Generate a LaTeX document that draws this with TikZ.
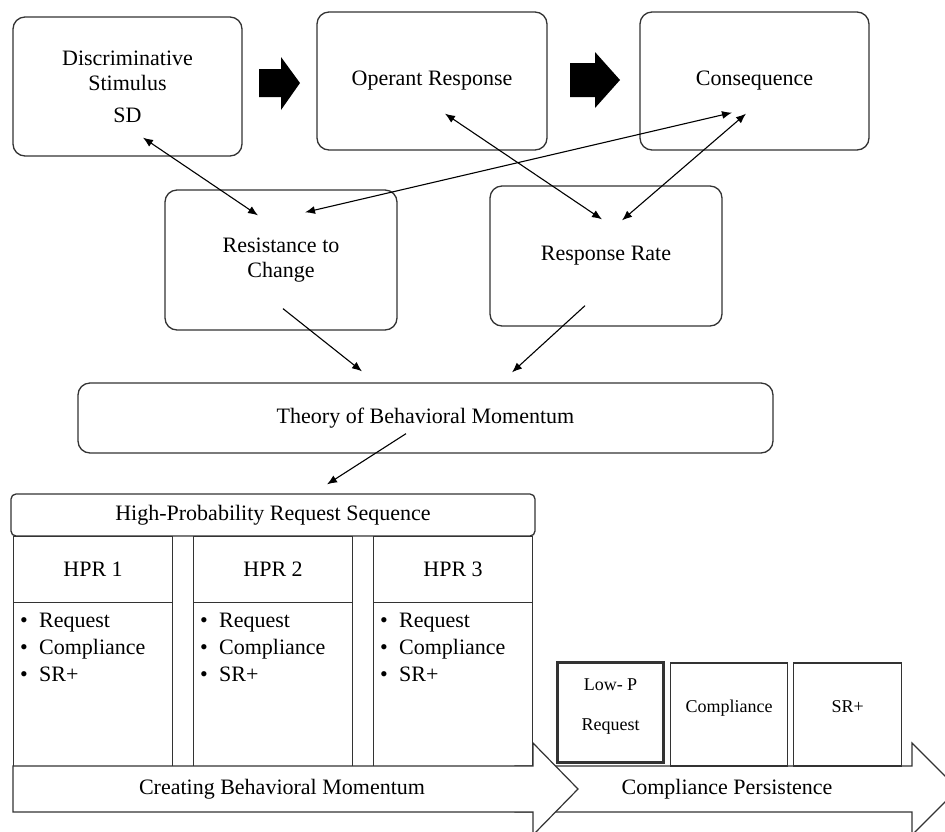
\documentclass[tikz,border=0pt]{standalone}
\usepackage{fontspec}
\setmainfont{Liberation Serif}
\usetikzlibrary{arrows.meta,positioning,calc}
\newcommand{\hpritem}[1]{\makebox[19pt][l]{\textbullet}#1}
\tikzset{
  roundbox/.style={draw=black!80, line width=1.3pt, rounded corners=12pt, align=center, inner sep=0pt},
  headbox/.style={draw=black!80, line width=1.3pt, rounded corners=5pt, align=center, inner sep=0pt},
  cellbox/.style={draw=black!80, line width=1.2pt, align=center, inner sep=0pt},
  smallbox/.style={draw=black!80, line width=1.2pt, align=center, inner sep=0pt, minimum height=103, text depth=16pt, font=\fontsize{18}{40}\selectfont},
  link/.style={-{Latex[length=10pt,width=8pt]}, line width=1.1pt},
  twolink/.style={{Latex[length=10pt,width=8pt]}-{Latex[length=10pt,width=8pt]}, line width=1.1pt},
  bigarrow/.style={draw=black!80, line width=1.2pt, fill=white}
}

\begin{document}
\begin{tikzpicture}[x=1pt, y=-1pt, font=\fontsize{22}{25}\selectfont]
  \path[use as bounding box, clip] (0,0) rectangle (945,831);
  \fill[white] (0,0) rectangle (945,831);

  % three-term contingency
  \node[roundbox, minimum width=229, minimum height=139] (sd) at (127.5,86.5) {Discriminative\\Stimulus\\[7pt]SD};
  \node[roundbox, minimum width=230, minimum height=138] (op) at (432,81) {Operant Response};
  \node[roundbox, minimum width=229, minimum height=138] (cons) at (754.5,81) {Consequence};
  \fill (259,69) -- (281,69) -- (281,57) -- (300,83) -- (281,110) -- (281,97) -- (259,97) -- cycle;
  \fill (570,63) -- (595,63) -- (595,52) -- (620,80) -- (595,108) -- (595,97) -- (570,97) -- cycle;

  % momentum
  \node[roundbox, minimum width=232, minimum height=140] (res) at (281,260) {Resistance to\\Change};
  \node[roundbox, minimum width=232, minimum height=140] (rate) at (606,256) {Response Rate};
  \node[roundbox, minimum width=695, minimum height=70] (bm) at (425.5,418) {Theory of Behavioral Momentum};

  \draw[twolink] ($(sd.south)+(15.5,-19)$) -- ($(res.north)+(-23,26)$);
  \draw[twolink] ($(cons.south)+(-22.5,-38)$) -- ($(res.north)+(24,23)$);
  \draw[twolink] ($(op.south)+(13,-37)$) -- ($(rate.north)+(-4,34)$);
  \draw[twolink] ($(cons.south)+(-8.5,-37)$) -- ($(rate.north)+(16,35)$);
  \draw[link] ($(res.south)+(2,-22)$) -- ($(bm.north)+(-63.5,-11)$);
  \draw[link] ($(rate.south)+(-21,-21)$) -- ($(bm.north)+(86.5,-10)$);

  % high-p sequence
  \node[headbox, minimum width=524, minimum height=42] (hprs) at (273,515) {High-Probability Request Sequence};
  \draw[link] ($(bm.south)+(-19.5,-20)$) -- ($(hprs.north)+(54,-9)$);
  \foreach \i/\x in {1/13,2/193,3/373}{
    \node[cellbox, minimum width=159, minimum height=66, anchor=north west] (hpr\i) at (\x,536) {HPR \i};
    \node[cellbox, minimum width=159, minimum height=164, anchor=north west] (list\i) at (\x,602) {};
    \node[anchor=north west, align=left, inner sep=0pt, font=\fontsize{22}{27}\selectfont]
      (items\i) at ([xshift=7pt,yshift=-11pt]list\i.north west)
      {\hpritem{Request}\\\hpritem{Compliance}\\\hpritem{SR+}};
  }

  % phases
  \path[bigarrow] (515,766) -- (912,766) -- (912,743) -- (958,789) -- (912,835) -- (912,812) -- (515,812) -- cycle;
  \path[bigarrow] (13,766) -- (533,766) -- (533,743) -- (578,789) -- (533,835) -- (533,812) -- (13,812) -- cycle;
  \node (mom) at (282,789) {Creating Behavioral Momentum};
  \node (pers) at (727,789) {Compliance Persistence};

  \node[smallbox, line width=3pt, minimum width=106, minimum height=100] (lowp) at (610.5,712.5) {Low- P\\Request};
  \node[smallbox, minimum width=117, right=5pt of lowp, yshift=-2pt] (comp) {Compliance};
  \node[smallbox, minimum width=108, right=5pt of comp] (sr) {SR+};
\end{tikzpicture}
\end{document}
